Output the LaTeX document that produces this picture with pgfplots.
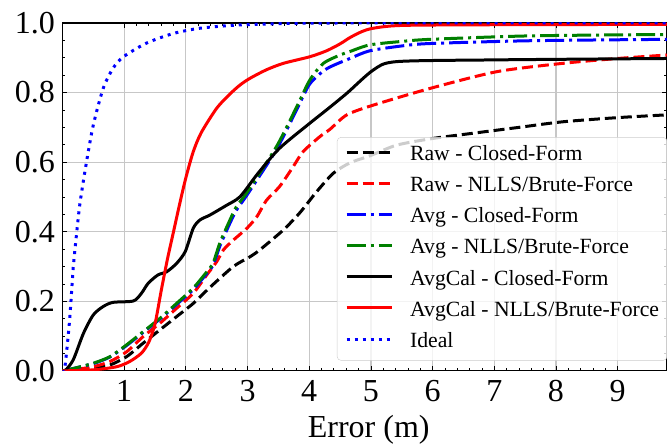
\documentclass[border=0pt]{standalone}
\usepackage{fontspec}
\setmainfont{Liberation Serif}
\usepackage{pgfplots}
\pgfplotsset{compat=1.18}
\definecolor{mplgreen}{RGB}{0,128,0}
\definecolor{mplblue}{RGB}{0,0,255}
\definecolor{mplred}{RGB}{255,0,0}
\begin{document}
\begin{tikzpicture}
\useasboundingbox (-62.5pt,-74pt) rectangle (604.7pt,371pt);
\begin{axis}[
  at={(0pt,0pt)}, anchor=south west,
  scale only axis, width=604.7pt, height=348pt,
  xmin=0, xmax=9.8, ymin=0, ymax=1,
  xtick={1,2,3,4,5,6,7,8,9}, ytick={0,0.2,0.4,0.6,0.8,1},
  minor x tick num=4, minor y tick num=3,
  tick align=inside, xtick pos=both, ytick pos=both,
  grid=major, major grid style={black!22, line width=1.2pt},
  axis line style={line width=1.1pt},
  major tick length=5pt, minor tick length=3pt,
  every tick/.append style={line width=0.8pt, black},
  /pgf/number format/assume math mode=true,
  ticklabel style={font=\fontsize{32}{32}\selectfont, inner sep=0pt},
  yticklabel style={/pgf/number format/fixed, /pgf/number format/fixed zerofill, /pgf/number format/precision=1, xshift=-7.5pt},
  xticklabel style={yshift=-9pt},
  xlabel={Error (m)},
  xlabel style={font=\fontsize{32}{32}\selectfont, at={(axis description cs:0.5,0)}, anchor=base, yshift=-67pt, xshift=4pt},
  legend style={at={(rel axis cs:0.454,0.672)}, anchor=north west, draw=black!20, rounded corners=4pt,
    fill=white, fill opacity=0.8, text opacity=1, draw opacity=1,
    font=\fontsize{21.7}{26}\selectfont, inner sep=8pt, row sep=11.2pt, column sep=17pt,
    nodes={inner sep=0pt, text height=15pt, text depth=5pt}},
  legend cell align=left,
  legend image code/.code={\draw[#1] (0pt,0.33em) -- (45pt,0.33em);},
  every axis plot/.append style={line width=3pt, smooth, tension=0.45},
]
% Raw - Closed-Form
\addplot[black, dash pattern=on 11pt off 5pt] coordinates {
(0,0) (0.2,0.003) (0.5,0.008) (0.77,0.017) (1.04,0.041) (1.31,0.080) (1.58,0.118) (1.85,0.156) (2.12,0.194) (2.39,0.24) (2.77,0.30) (3.04,0.328) (3.2,0.348) (3.58,0.405) (3.85,0.455) (4.12,0.515) (4.39,0.568) (4.66,0.598) (4.98,0.618) (5.42,0.649) (6.0,0.668) (6.65,0.683) (7.4,0.70) (8.11,0.716) (9.0,0.728) (9.8,0.736)};
% Raw - NLLS
\addplot[mplred, dash pattern=on 11pt off 5pt] coordinates {
(0,0) (0.2,0.004) (0.5,0.012) (0.77,0.027) (1.04,0.055) (1.31,0.099) (1.58,0.137) (1.85,0.18) (2.12,0.223) (2.34,0.276) (2.50,0.314) (2.61,0.348) (2.77,0.376) (2.99,0.41) (3.15,0.443) (3.31,0.491) (3.52,0.530) (3.74,0.587) (3.90,0.630) (4.17,0.673) (4.34,0.695) (4.61,0.736) (5.04,0.764) (5.96,0.812) (7.04,0.860) (8.11,0.884) (9.0,0.898) (9.8,0.908)};
% Avg - Closed-Form
\addplot[mplblue, dash pattern=on 19pt off 5pt on 3pt off 5pt] coordinates {
(0,0) (0.2,0.008) (0.5,0.021) (0.77,0.040) (1.04,0.073) (1.31,0.111) (1.58,0.149) (1.85,0.191) (2.12,0.234) (2.34,0.280) (2.44,0.303) (2.55,0.358) (2.69,0.415) (2.82,0.462) (3.0,0.508) (3.47,0.637) (3.80,0.752) (4.01,0.825) (4.28,0.868) (4.66,0.898) (4.98,0.920) (5.5,0.934) (5.96,0.941) (7.58,0.949) (9.8,0.953)};
% Avg - NLLS
\addplot[mplgreen, dash pattern=on 19pt off 5pt on 3pt off 5pt] coordinates {
(0,0) (0.2,0.008) (0.5,0.022) (0.77,0.041) (1.04,0.075) (1.31,0.113) (1.58,0.151) (1.85,0.194) (2.12,0.238) (2.34,0.285) (2.44,0.309) (2.55,0.367) (2.69,0.424) (2.82,0.472) (3.0,0.515) (3.47,0.645) (3.80,0.760) (4.01,0.836) (4.23,0.884) (4.50,0.908) (4.66,0.918) (4.98,0.937) (5.5,0.947) (5.96,0.953) (7.58,0.963) (9.8,0.967)};
% AvgCal - Closed-Form
\addplot[black] coordinates {
(0,0) (0.05,0.002) (0.175,0.032) (0.34,0.108) (0.5,0.161) (0.66,0.185) (0.82,0.197) (1.15,0.201) (1.28,0.223) (1.39,0.252) (1.55,0.276) (1.69,0.285) (1.85,0.309) (1.99,0.343) (2.12,0.41) (2.23,0.434) (2.39,0.448) (2.65,0.475) (2.88,0.501) (3.17,0.568) (3.52,0.640) (4.01,0.712) (4.28,0.75) (4.61,0.798) (5.04,0.865) (5.42,0.889) (7.04,0.894) (9.8,0.898)};
% AvgCal - NLLS
\addplot[mplred] coordinates {
(0,0) (0.5,0.003) (0.88,0.012) (1.09,0.027) (1.28,0.051) (1.4,0.083) (1.5,0.135) (1.6,0.23) (1.7,0.32) (1.8,0.40) (1.9,0.48) (2.0,0.555) (2.12,0.63) (2.25,0.685) (2.5,0.755) (2.71,0.795) (2.88,0.822) (3.04,0.841) (3.3,0.865) (3.58,0.884) (4.01,0.903) (4.28,0.92) (4.5,0.94) (4.66,0.958) (4.85,0.975) (5.04,0.985) (5.5,0.993) (7,0.995) (9.8,0.996)};
% Ideal
\addplot[mplblue, dash pattern=on 3pt off 5pt] coordinates {
(0,0) (0.03,0.0) (0.07,0.06) (0.12,0.156) (0.175,0.30) (0.2,0.345) (0.28,0.477) (0.39,0.601) (0.5,0.707) (0.66,0.812) (0.82,0.870) (0.99,0.903) (1.36,0.942) (1.8,0.970) (2.23,0.985) (2.82,0.994) (3.5,0.998) (4.5,1.0) (9.8,1.0)};
\legend{Raw - Closed-Form, Raw - NLLS/Brute-Force, Avg - Closed-Form, Avg - NLLS/Brute-Force, AvgCal - Closed-Form, AvgCal - NLLS/Brute-Force, Ideal}
\end{axis}
\end{tikzpicture}
\end{document}
